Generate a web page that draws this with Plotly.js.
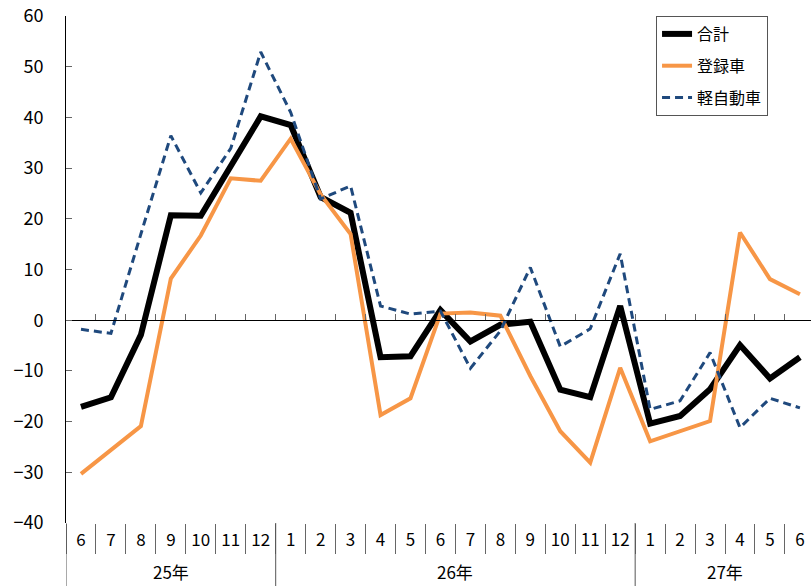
<!DOCTYPE html>
<html>
<head>
<meta charset="utf-8">
<script src="https://cdn.plot.ly/plotly-3.0.1.min.js"></script>
<style>
html,body{margin:0;padding:0;background:#fff;}
#chart{width:811px;height:586px;}
</style>
</head>
<body>
<div id="chart"></div>
<script>
// Category labels (a zero-width space keeps repeated month labels distinct per year)
const months = ['6','7','8','9','10','11','12',
  '1\u200b','2\u200b','3\u200b','4\u200b','5\u200b','6\u200b','7\u200b','8\u200b','9\u200b','10\u200b','11\u200b','12\u200b',
  '1\u200b\u200b','2\u200b\u200b','3\u200b\u200b','4\u200b\u200b','5\u200b\u200b','6\u200b\u200b'];
const yearLabels = ['25年', '26年', '27年'];
const yearCounts = [7, 12, 6];   // months in each year group

// Series values (year-on-year %)
const total = [-17.1, -15.2, -2.9, 20.7, 20.6, 30.5, 40.2,
  38.5, 24.3, 21.2, -7.3, -7.1, 2.0, -4.2, -0.9, -0.3, -13.7, -15.2, 2.8,
  -20.4, -18.9, -13.6, -4.9, -11.5, -7.3];
const registered = [-30.3, -25.6, -20.9, 8.2, 16.7, 28.0, 27.5,
  35.8, 24.8, 17.0, -18.7, -15.4, 1.3, 1.5, 0.9, -11.0, -21.9, -28.1, -9.4,
  -23.9, -21.9, -19.9, 17.3, 8.1, 5.1];
const kei = [-1.8, -2.6, 17.0, 36.4, 25.1, 33.9, 52.9,
  41.0, 23.9, 26.5, 2.8, 1.2, 1.8, -9.5, -2.1, 10.4, -5.2, -1.7, 13.1,
  -17.6, -15.9, -6.4, -21.2, -15.4, -17.3];

const seriesNames = ['合計', '登録車', '軽自動車'];

const FONT = '"Noto Sans CJK JP", "Noto Sans", sans-serif';

const traces = [
  {x: months, y: total, name: seriesNames[0], type: 'scatter', mode: 'lines',
   line: {color: '#000000', width: 6}, legendgroup: 'a'},
  {x: months, y: registered, name: seriesNames[1], type: 'scatter', mode: 'lines',
   line: {color: '#F79646', width: 4}, legendgroup: 'b'},
  {x: months, y: kei, name: seriesNames[2], type: 'scatter', mode: 'lines',
   line: {color: '#1F497D', width: 3, dash: '8px,5px'}, legendgroup: 'c'}
];

// Year group labels and dividers below the axis (positioned in category index units)
const annotations = [];
const shapes = [];
let start = 0;
const BOTTOM = -0.125;
shapes.push({type: 'line', xref: 'x', yref: 'paper', x0: -0.5, x1: -0.5, y0: BOTTOM, y1: 0,
  line: {color: '#555', width: 1}});
yearLabels.forEach((lab, i) => {
  const n = yearCounts[i];
  annotations.push({text: lab, xref: 'x', yref: 'paper', x: start + (n - 1) / 2, y: -0.0966,
    xanchor: 'center', yanchor: 'middle', showarrow: false, borderpad: 0,
    font: {family: FONT, size: 17, color: '#000'}});
  const end = start + n - 0.5;
  shapes.push({type: 'line', xref: 'x', yref: 'paper', x0: end, x1: end, y0: BOTTOM, y1: 0,
    line: {color: '#555', width: 1}});
  start += n;
});

const layout = {
  width: 811, height: 586,
  margin: {l: 66, r: 0, t: 16, b: 63},
  paper_bgcolor: '#ffffff', plot_bgcolor: '#ffffff',
  font: {family: FONT, size: 17, color: '#000'},
  showlegend: true,
  legend: {
    x: 0.792, y: 1, xanchor: 'left', yanchor: 'top',
    bordercolor: '#555555', borderwidth: 1, bgcolor: '#ffffff',
    font: {family: FONT, size: 16, color: '#000'},
    tracegroupgap: 8
  },
  annotations: annotations,
  shapes: shapes,
  xaxis: {
    type: 'category',
    categoryorder: 'array', categoryarray: months,
    range: [-0.5, 24.37],
    showgrid: false, zeroline: false, showline: false,
    ticks: 'outside', tickson: 'boundaries', ticklen: 30, tickcolor: '#666', tickwidth: 1,
    ticklabelstandoff: 5,
    tickfont: {family: FONT, size: 17, color: '#000'},
    fixedrange: true
  },
  xaxis2: {
    overlaying: 'x', anchor: 'free', position: 0.4, side: 'bottom',
    range: [-0.5, 24.37], tick0: 0.5, dtick: 1,
    showgrid: false, zeroline: false, showline: true, linecolor: '#000', linewidth: 1,
    ticks: 'inside', ticklen: 6, tickcolor: '#666', tickwidth: 1,
    showticklabels: false
  },
  yaxis: {
    range: [-40, 60], dtick: 10, tick0: 0,
    showgrid: false, zeroline: false,
    showline: true, linecolor: '#000', linewidth: 1,
    ticks: 'inside', ticklen: 6, tickcolor: '#666',
    ticklabelstandoff: 18,
    tickfont: {family: FONT, size: 18, color: '#000'},
    fixedrange: true
  }
};

// invisible trace to activate the zero-line axis
traces.push({x: [0], y: [0], xaxis: 'x2', yaxis: 'y', mode: 'markers',
  marker: {opacity: 0}, showlegend: false, hoverinfo: 'skip'});

Plotly.newPlot('chart', traces, layout, {displayModeBar: false, staticPlot: true});
</script>
</body>
</html>
